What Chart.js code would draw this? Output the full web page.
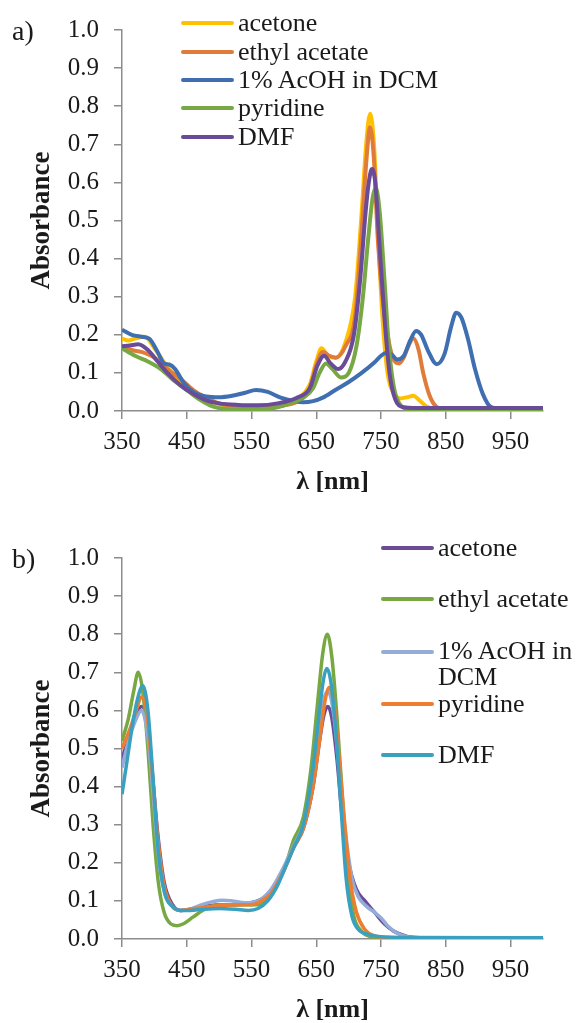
<!DOCTYPE html>
<html>
<head>
<meta charset="utf-8">
<script src="https://cdn.jsdelivr.net/npm/chart.js@4/dist/chart.umd.min.js"></script>
<style>
  html, body { margin: 0; padding: 0; background: #fff; overflow: hidden; }
  body { width: 578px; height: 1023px; position: relative; font-family: "Liberation Serif", "Times New Roman", serif; color: #1a1a1a; }
  .panel { position: absolute; left: 0; width: 578px; height: 495px; }
  .tag { position: absolute; font-size: 28px; line-height: 28px; }
  .legend { position: absolute; font-size: 26px; }
  .item { position: absolute; left: 0; display: flex; align-items: center; white-space: nowrap; }
  .item span.line { display: inline-block; width: 53px; height: 4px; border-radius: 2px; margin-right: 4px; }
</style>
</head>
<body>
<div class="panel" style="top:0"><canvas id="chartA"></canvas></div>
<div class="panel" style="top:528px"><canvas id="chartB"></canvas></div>
<div class="tag" style="left:12px; top:17px">a)</div>
<div class="tag" style="left:12px; top:545px">b)</div>
<div class="legend" id="legendA" style="left:181px; top:0"></div>
<div class="legend" id="legendB" style="left:381px; top:0"></div>
<script>
// ---------- panel a) ----------
const labelsA = ['acetone', 'ethyl acetate', '1% AcOH in DCM', 'pyridine', 'DMF'];
const coloursA = ['#ffc000', '#e07b39', '#3f6fb0', '#77a843', '#6a4b98'];

const aAcetoneX = [350,360,370,385,400,420,440,460,480,500,530,560,600,620,640,650,658,668,680,695,710,720,727,733,739,745,752,760,770,780,790,800,808,820,835,860,1000];
const aAcetoneY = [0.19,0.185,0.19,0.195,0.165,0.115,0.075,0.05,0.03,0.018,0.01,0.008,0.015,0.03,0.07,0.13,0.165,0.145,0.14,0.18,0.3,0.52,0.7,0.78,0.7,0.48,0.25,0.1,0.045,0.033,0.036,0.04,0.03,0.012,0.005,0.005,0.005];

const aEthylX = [350,365,380,400,420,440,460,480,500,530,560,600,620,640,650,660,670,680,695,710,720,727,733,739,745,752,760,768,778,785,792,800,808,815,825,835,850,1000];
const aEthylY = [0.17,0.16,0.155,0.14,0.11,0.085,0.055,0.035,0.02,0.012,0.01,0.015,0.025,0.06,0.12,0.155,0.145,0.14,0.17,0.25,0.47,0.65,0.745,0.66,0.45,0.3,0.2,0.14,0.125,0.14,0.17,0.19,0.16,0.1,0.04,0.012,0.005,0.005];

const aAcohX = [350,365,380,392,405,415,423,432,445,460,480,500,520,540,557,575,595,615,630,645,660,680,700,720,740,750,757,765,775,785,795,804,812,822,836,848,858,866,874,884,895,907,920,940,1000];
const aAcohY = [0.213,0.2,0.195,0.19,0.155,0.125,0.122,0.11,0.075,0.05,0.038,0.036,0.04,0.048,0.055,0.05,0.035,0.026,0.023,0.026,0.035,0.056,0.076,0.1,0.128,0.145,0.152,0.15,0.135,0.145,0.185,0.21,0.2,0.16,0.123,0.15,0.22,0.258,0.245,0.19,0.11,0.045,0.01,0.005,0.005];

const aPyridineX = [350,370,390,410,430,450,470,490,510,540,570,590,610,630,645,655,665,675,688,700,712,722,730,737,742,748,755,762,770,780,795,1000];
const aPyridineY = [0.165,0.145,0.13,0.11,0.08,0.055,0.03,0.012,0.005,0.003,0.004,0.01,0.02,0.035,0.06,0.1,0.125,0.11,0.088,0.1,0.17,0.3,0.45,0.56,0.585,0.52,0.35,0.17,0.06,0.015,0.004,0.002];

const aDmfX = [350,362,375,390,405,420,440,460,480,500,530,560,590,620,640,652,662,672,684,695,708,718,726,731,736,741,747,755,763,772,785,800,1000];
const aDmfY = [0.17,0.172,0.175,0.16,0.13,0.1,0.068,0.045,0.028,0.02,0.016,0.015,0.02,0.035,0.06,0.12,0.145,0.125,0.11,0.13,0.2,0.35,0.52,0.6,0.635,0.6,0.45,0.25,0.1,0.03,0.01,0.008,0.008];

// ---------- panel b) ----------
const labelsB = ['acetone', 'ethyl acetate', '1% AcOH in DCM', 'pyridine', 'DMF'];
const coloursB = ['#6a4b98', '#77a843', '#93acd8', '#ed7d31', '#3aa0c0'];

const bAcetoneX = [350,360,370,380,388,396,405,415,428,440,455,475,500,525,550,570,590,605,615,630,645,655,662,668,674,682,690,700,712,725,740,755,770,790,820,1000];
const bAcetoneY = [0.47,0.53,0.58,0.61,0.58,0.45,0.28,0.15,0.09,0.075,0.078,0.085,0.09,0.09,0.095,0.11,0.15,0.2,0.24,0.29,0.4,0.52,0.59,0.61,0.58,0.47,0.32,0.2,0.13,0.1,0.07,0.04,0.02,0.007,0.003,0.002];

const bEthylX = [350,360,368,375,382,390,398,406,415,425,435,445,460,480,500,530,560,580,600,615,630,642,652,660,667,674,682,690,698,708,720,735,750,1000];
const bEthylY = [0.52,0.58,0.65,0.7,0.65,0.5,0.3,0.15,0.07,0.04,0.035,0.04,0.058,0.08,0.09,0.09,0.09,0.12,0.18,0.26,0.32,0.45,0.62,0.75,0.8,0.74,0.58,0.38,0.18,0.06,0.02,0.005,0,0];

const bAcohX = [350,360,370,380,390,398,406,416,428,440,455,470,490,505,520,540,560,580,600,615,630,645,655,662,668,676,685,695,705,715,728,740,750,760,775,790,810,1000];
const bAcohY = [0.45,0.52,0.57,0.6,0.53,0.38,0.22,0.12,0.085,0.075,0.078,0.088,0.098,0.102,0.1,0.095,0.1,0.13,0.19,0.245,0.3,0.42,0.55,0.63,0.65,0.6,0.45,0.28,0.16,0.11,0.085,0.07,0.055,0.035,0.015,0.006,0.003,0.002];

const bPyridineX = [350,362,372,380,388,396,405,415,428,440,455,475,500,525,550,565,580,600,615,630,645,655,663,670,677,685,693,702,712,725,740,760,800,1000];
const bPyridineY = [0.5,0.55,0.6,0.635,0.6,0.45,0.27,0.14,0.085,0.075,0.078,0.083,0.088,0.09,0.09,0.1,0.12,0.18,0.24,0.29,0.4,0.52,0.62,0.66,0.62,0.48,0.32,0.16,0.07,0.025,0.008,0.003,0.001,0];

const bDmfX = [350,358,366,374,382,390,398,406,416,428,440,455,475,500,525,545,560,575,590,605,615,630,645,655,661,666,672,680,688,696,705,715,730,750,800,1000];
const bDmfY = [0.38,0.47,0.56,0.63,0.665,0.6,0.42,0.23,0.12,0.085,0.075,0.075,0.078,0.08,0.078,0.075,0.08,0.1,0.14,0.2,0.24,0.3,0.45,0.6,0.68,0.71,0.68,0.55,0.35,0.16,0.06,0.025,0.012,0.006,0.004,0.003];

const xTicks = [350, 450, 550, 650, 750, 850, 950];
const yTicks = [0, 0.1, 0.2, 0.3, 0.4, 0.5, 0.6, 0.7, 0.8, 0.9, 1.0];

const serif = '"Liberation Serif", "Times New Roman", serif';
const axisGrey = '#8c8c8c';

function pts(xs, ys) {
    return xs.map((x, i) => ({ x: x, y: ys[i] }));
}

function makeChart(id, series, labels, colours, lineW) {
    const datasets = series.map((s, i) => ({
        label: labels[i],
        data: pts(s[0], s[1]),
        borderColor: colours[i],
        borderWidth: lineW,
        pointRadius: 0,
        fill: false,
        cubicInterpolationMode: 'monotone',
        order: series.length - i   // later series drawn on top, like the original
    }));

    return new Chart(document.getElementById(id), {
        type: 'line',
        data: { datasets: datasets },
        options: {
            responsive: true,
            maintainAspectRatio: false,
            animation: false,
            layout: { padding: { top: 29, right: 35, left: 0, bottom: 0 } },
            plugins: { legend: { display: false }, tooltip: { enabled: false } },
            scales: {
                x: {
                    type: 'linear', min: 350, max: 1000,
                    afterBuildTicks: (sc) => { sc.ticks = xTicks.map(v => ({ value: v })); },
                    afterFit: (sc) => { sc.height = 84; },
                    grid: { drawOnChartArea: false, tickLength: 8, color: axisGrey, lineWidth: 1.5 },
                    border: { color: axisGrey, width: 1.5 },
                    ticks: { color: '#1a1a1a', font: { family: serif, size: 25 }, padding: 8, maxRotation: 0 },
                    title: { display: true, text: 'λ [nm]', color: '#1a1a1a', font: { family: serif, size: 26, weight: 'bold', lineHeight: 1 }, padding: { top: 0, bottom: 0 } }
                },
                y: {
                    min: 0, max: 1,
                    afterBuildTicks: (sc) => { sc.ticks = yTicks.map(v => ({ value: v })); },
                    afterFit: (sc) => { sc.width = 122; },
                    grid: { drawOnChartArea: false, tickLength: 8, color: axisGrey, lineWidth: 1.5 },
                    border: { color: axisGrey, width: 1.5 },
                    ticks: { color: '#1a1a1a', font: { family: serif, size: 25 }, padding: 15, callback: (v) => v.toFixed(1) },
                    title: { display: true, text: 'Absorbance', color: '#1a1a1a', font: { family: serif, size: 27, weight: 'bold', lineHeight: 1 }, padding: { top: 29, bottom: 0 } }
                }
            }
        }
    });
}

makeChart('chartA', [[aAcetoneX, aAcetoneY], [aEthylX, aEthylY], [aAcohX, aAcohY], [aPyridineX, aPyridineY], [aDmfX, aDmfY]], labelsA, coloursA, 4);
makeChart('chartB', [[bAcetoneX, bAcetoneY], [bEthylX, bEthylY], [bAcohX, bAcohY], [bPyridineX, bPyridineY], [bDmfX, bDmfY]], labelsB, coloursB, 3.5);

// hand-placed legends (the original ones sit inside the plot, tightly packed)
function buildLegend(boxId, labels, colours, rowsY, texts) {
    const box = document.getElementById(boxId);
    labels.forEach((lab, i) => {
        const row = document.createElement('div');
        row.className = 'item';
        row.style.top = (rowsY[i] - 14) + 'px';
        row.style.height = '28px';
        const ln = document.createElement('span');
        ln.className = 'line';
        ln.style.background = colours[i];
        const tx = document.createElement('span');
        tx.innerHTML = texts ? texts[i] : lab;
        row.appendChild(ln);
        row.appendChild(tx);
        box.appendChild(row);
    });
}

buildLegend('legendA', labelsA, coloursA, [23, 52, 80, 108, 137]);
buildLegend('legendB', labelsB, coloursB, [548, 599, 652, 704, 755],
    ['acetone', 'ethyl acetate', '<span style="position:relative;top:13px;display:inline-block;line-height:26px">1% AcOH in<br>DCM</span>', 'pyridine', 'DMF']);
</script>
</body>
</html>
